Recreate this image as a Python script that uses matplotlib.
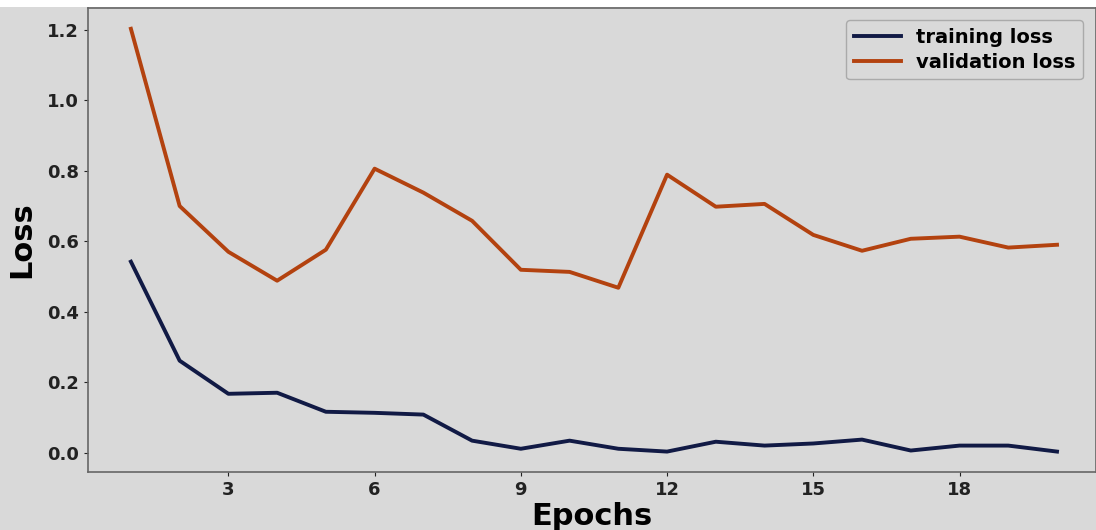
import matplotlib.pyplot as plt
from matplotlib.patches import Rectangle

# Loss per epoch
epochs = list(range(1, 21))
training_loss = [0.542, 0.261, 0.167, 0.170, 0.116, 0.113, 0.108, 0.034, 0.011, 0.034,
                 0.011, 0.003, 0.031, 0.020, 0.026, 0.037, 0.006, 0.020, 0.020, 0.003]
validation_loss = [1.203, 0.700, 0.570, 0.488, 0.576, 0.806, 0.738, 0.658, 0.519, 0.513,
                   0.468, 0.789, 0.698, 0.706, 0.618, 0.573, 0.607, 0.613, 0.582, 0.590]

bg = "#d9d9d9"
fig = plt.figure(figsize=(10.96, 5.30), dpi=100, facecolor=bg)
ax = fig.add_axes([0.0803, 0.1094, 0.9197, 0.8755])
ax.set_facecolor(bg)

# white strip above the plot, as in the cropped original
fig.patches.append(Rectangle((0, 0.986), 1, 0.02, transform=fig.transFigure,
                             facecolor="white", edgecolor="none", zorder=0))

ax.plot(epochs, training_loss, color="#111a45", lw=2.8, label="training loss")
ax.plot(epochs, validation_loss, color="#b3420f", lw=2.8, label="validation loss")

ax.set_xlim(0.12, 20.8)
ax.set_ylim(-0.055, 1.262)
ax.set_xticks([3, 6, 9, 12, 15, 18])
ax.set_yticks([0.0, 0.2, 0.4, 0.6, 0.8, 1.0, 1.2])
ax.set_yticklabels(["0.0", "0.2", "0.4", "0.6", "0.8", "1.0", "1.2"])
for lbl in ax.get_xticklabels() + ax.get_yticklabels():
    lbl.set_fontweight("bold")
    lbl.set_fontsize(13)
ax.tick_params(colors="#222222", length=3, width=0.8)

for s in ax.spines.values():
    s.set_color("#666666")
    s.set_linewidth(1.2)

ax.set_xlabel("Epochs", fontsize=22, fontweight="bold", labelpad=2)
ax.set_ylabel("Loss", fontsize=22, fontweight="bold", labelpad=8)

leg = ax.legend(loc="upper right", bbox_to_anchor=(0.997, 0.995),
                prop={"weight": "bold", "size": 14},
                facecolor=bg, edgecolor="#aaaaaa", framealpha=1,
                handlelength=2.4, labelspacing=0.3)

fig.savefig("out.png", dpi=100, facecolor=bg)
